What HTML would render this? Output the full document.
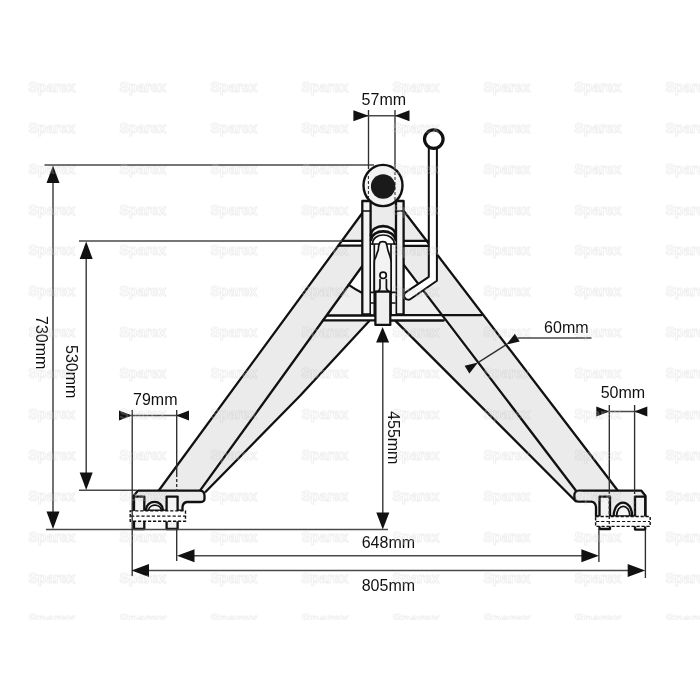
<!DOCTYPE html>
<html lang="en"><head><meta charset="utf-8"><title>A-Frame dimensions</title>
<style>
html,body{margin:0;padding:0;background:#fff;}
body{width:700px;height:700px;overflow:hidden;}
svg{display:block;}
.wm text{font-family:"Liberation Sans",sans-serif;font-weight:bold;font-size:14px;fill:rgba(255,255,255,0.22);stroke:rgba(0,0,0,0.075);stroke-width:1.1px;paint-order:stroke;}
.lbl{opacity:0.999;font-family:"Liberation Sans",sans-serif;font-size:16px;fill:#111;}
.o{stroke:#111;stroke-width:2.3;stroke-linejoin:round;stroke-linecap:round;}
.t{stroke:#111;stroke-width:1.7;stroke-linejoin:round;stroke-linecap:round;}
.d{stroke:#2e2e2e;stroke-width:1.35;fill:none;}
.dh{stroke:#4a4a4a;stroke-width:1.5;fill:none;}
.ah{fill:#111;stroke:none;}
</style></head><body>
<svg width="700" height="700" viewBox="0 0 700 700">
<rect width="700" height="700" fill="#fff"/>
<defs><clipPath id="wmclip"><rect x="0" y="78" width="700" height="542"/></clipPath></defs>

<g id="frame">
<polygon points="362.3,213 158.6,490.7 200,490.7 362.3,266" fill="#ebebeb"/>
<polygon points="200,490.7 205.7,492.5 300.3,395.5 369,321.3 323,320.5" fill="#ebebeb"/>
<polygon points="348.7,284.9 362.3,293 362.3,315.5 326.5,315.5" fill="#efefef"/>
<polygon points="342,240.9 362.3,240.9 362.3,245.6 338.6,245.6" fill="#fff"/>
<polygon points="403.6,210.8 617.9,490.7 576.4,491 403.6,264.6" fill="#ebebeb"/>
<polygon points="576,490.7 575.7,501.2 396,321.4 444,320.6" fill="#ebebeb"/>
<polygon points="403.6,246 428.6,246 428.6,276 403.6,266" fill="#ebebeb"/>
<polygon points="403.6,266 442.9,315 403.6,315" fill="#efefef"/>
<polygon points="403.6,265 418.5,283 405,292 403.6,294" fill="#fff"/>
<polygon points="403.6,240.9 428,240.9 428,245.9 403.6,245.9" fill="#fff"/>
<rect x="370.6" y="200" width="25.4" height="115" fill="#ebebeb"/>
<path class="o" fill="none" d="M362.3,213 L158.6,490.7"/>
<path class="o" fill="none" d="M362.3,266 L200,490.7"/>
<path class="o" fill="none" d="M369,321.3 L300.3,395.5 L205.7,491.8"/>
<path class="o" fill="none" d="M342,240.9 H362.3 M338.6,245.6 H362.3"/>
<path class="t" fill="none" style="stroke-width:2.1" d="M348.7,284.9 Q355.5,289.6 362.3,293"/>
<path class="o" fill="none" d="M327.1,315.5 H375.4 M322.9,320.4 H375.4"/>
<path class="o" fill="none" d="M403.6,210.8 L617.9,490.7"/>
<path class="o" fill="none" d="M403.6,264.6 L576.4,491.2"/>
<path class="o" fill="none" d="M396,321.4 L575.7,501.2"/>
<path class="o" fill="none" d="M403.6,240.9 H428.6 M403.6,245.9 H428.6"/>
<path class="o" fill="none" d="M390.3,315.2 H481.4 M390.3,320.5 H443.7"/>
<rect class="o" x="362.3" y="201" width="8.3" height="113.5" fill="#f3f3f3"/>
<rect class="o" x="396" y="201" width="7.6" height="113.5" fill="#f3f3f3"/>
<path class="t" fill="none" d="M362.3,211 H370.6 M396,211 H403.6"/>
<path class="t" fill="none" d="M374.3,246 V314 M391,246 V314"/>
<rect x="371" y="238" width="3.3" height="76" fill="#f6f6f6"/>
<rect x="391" y="238" width="4.5" height="76" fill="#f6f6f6"/>
<rect x="374.3" y="243" width="16.7" height="49" fill="#fff"/>
<path class="t" fill="none" d="M374.3,243 V314 M391,243 V314"/>
<path class="t" fill="none" d="M370.9,292.3 H374.3 M370.9,303 H374.3 M391,292.3 H395 M391,303 H395"/>
<path class="o" style="stroke-width:2.6" d="M370.9,235.5 C371,223 395,223 395.8,235.5" fill="#f6f6f6"/>
<path class="o" style="stroke-width:2.6" d="M371,240 C372,228.5 394.5,228.5 395.6,240" fill="#f6f6f6"/>
<path class="t" d="M372.5,244 C372.5,232 393.8,232 394.3,244" fill="#fff"/>
<path class="t" fill="none" d="M371,244 H379 M387,244 H395.5"/>
<path class="t" fill="#f3f3f3" d="M382.9,241.7 C380.8,241.7 379.7,242.4 379.4,243.4 L378.6,246.3 L378.3,249.7 L377.1,253.1 L376,256.6 L374.5,260 L374.3,263.4 V291.7 H391.1 V263.4 L390.9,260 L390.1,256.6 L388.9,253.1 L387.8,249.7 L387.1,246.3 L386.3,243.4 C386,242.4 385,241.7 382.9,241.7 Z"/>
<rect class="o" x="375.4" y="291.7" width="14.9" height="33.2" fill="#efefef"/>
<path class="t" fill="#efefef" d="M376.6,291.7 C379,291 380,289.5 380,288 V279.5 M386.4,279.5 V288 C386.4,289.5 387.5,291 390,291.7"/>
<circle class="t" cx="383.1" cy="275.3" r="3.2" fill="#fff"/>
<ellipse class="o" cx="383" cy="185.5" rx="19.5" ry="20.6" fill="#f3f3f3" style="stroke-width:2.4"/>
<circle cx="383.1" cy="186.5" r="12.2" fill="#1a1a1a"/>
<path d="M368.4,176 V200 M395,172 V200" stroke="#222" stroke-width="1" stroke-dasharray="3 2" fill="none"/>
<path class="o" fill="#fff" style="stroke-width:2" d="M428.8,148 V276.8 L406,292.2 A4,4 0 0 0 410.6,299 L436.9,280.8 V148 Z"/>
<circle cx="433.8" cy="139.1" r="9.3" fill="#fff" stroke="#111" stroke-width="3.2"/>
<path class="o" fill="#ebebeb" d="M133.6,495.7 L137.9,490.7 H200 Q204.5,491 204.5,495.5 V499 Q204.5,502 200,502 H187 Q183,502.5 182.5,507 V510.7 H133.6 Z"/><path class="o" fill="#f3f3f3" d="M134,496.6 V529 H144.3 V496.6 Z"/><path class="o" fill="#f3f3f3" d="M166.6,496.6 V529 H177.6 V496.6 Z"/><path class="o" fill="#f4f4f4" d="M145.8,510.7 C146,499 163,499 163,510.7 Z"/><path class="t" fill="none" d="M148.5,510.7 C149,503.5 160.5,503 161.5,510.7"/><rect x="130.2" y="510.9" width="55.3" height="10.4" fill="#fff" stroke="#111" stroke-width="1.4" stroke-dasharray="3.2 1.8"/><path d="M131,516.1 H185" stroke="#111" stroke-width="1.2" stroke-dasharray="3.2 2"/>
<path class="o" fill="#ebebeb" d="M645.4,495.7 L641.4,490.7 H579 Q574.3,491 574.3,496 Q574.3,501.7 579,501.7 H591 Q595.5,502 596,507 V516.4 H645.4 Z"/><path class="o" fill="#f3f3f3" d="M599.5,496.6 V529 H610 V496.6 Z"/><path class="o" fill="#f3f3f3" d="M635,496.6 V529.6 H645.2 V496.6 Z"/><path class="o" fill="#f4f4f4" d="M613.6,516.4 C614,498 632,498 632.2,516.4 Z"/><path class="t" fill="none" d="M616.5,516.4 C617,503 629.5,503 630,516.4"/><rect x="595.6" y="516.5" width="54.6" height="9.9" fill="#fff" stroke="#111" stroke-width="1.4" stroke-dasharray="3.2 1.8"/><path d="M596,521.5 H650" stroke="#111" stroke-width="1.2" stroke-dasharray="3.2 2"/>
</g>
<g id="dims">
<path class="dh" d="M44.5,165 H374 M79,241 H342 M79,490.3 H137 M46,529.6 H388"/>
<path class="d" d="M53,180 V514 M86.2,256 V475"/>
<polygon class="ah" points="53.0,165.5 59.5,183.0 46.5,183.0"/>
<polygon class="ah" points="53.0,529.0 46.5,511.5 59.5,511.5"/>
<polygon class="ah" points="86.2,241.5 92.7,259.0 79.7,259.0"/>
<polygon class="ah" points="86.2,490.0 79.7,472.5 92.7,472.5"/>
<path class="d" d="M382.8,341 V514"/>
<polygon class="ah" points="382.6,327.0 389.1,342.5 376.1,342.5"/>
<polygon class="ah" points="382.8,529.5 376.3,512.5 389.3,512.5"/>
<path class="d" d="M132.2,410 V576 M176.7,410 V474 M176.7,529 V561"/>
<path class="d" d="M176.7,474 V491" stroke-dasharray="3 2"/>
<path class="dh" d="M120,415.5 H189"/>
<polygon class="ah" points="132.0,415.5 119.0,420.5 119.0,410.5"/>
<polygon class="ah" points="176.0,415.5 189.0,410.5 189.0,420.5"/>
<path class="d" d="M368.5,110 V169 M395,110 V170"/>
<path class="dh" d="M355,115.7 H407"/>
<polygon class="ah" points="368.7,115.7 353.4,121.2 353.4,110.2"/>
<polygon class="ah" points="394.9,115.7 409.5,110.2 409.5,121.2"/>
<path class="d" d="M609.3,405 V491 M634.6,405 V491"/>
<path class="d" d="M609.3,491 V527 M634.6,491 V516" stroke-dasharray="3 2"/>
<path class="dh" d="M597,411.6 H647"/>
<polygon class="ah" points="609.3,411.6 596.3,416.6 596.3,406.6"/>
<polygon class="ah" points="634.3,411.6 647.3,406.6 647.3,416.6"/>
<path class="dh" d="M193,555.8 H583"/>
<polygon class="ah" points="177.0,555.8 194.5,549.3 194.5,562.3"/>
<polygon class="ah" points="598.9,555.8 581.4,562.3 581.4,549.3"/>
<path class="d" d="M598.9,529 V562 M645.4,530 V578"/>
<path class="dh" d="M147,570.6 H629"/>
<polygon class="ah" points="131.5,570.6 149.0,564.1 149.0,577.1"/>
<polygon class="ah" points="645.2,570.6 627.7,577.1 627.7,564.1"/>
<path class="dh" d="M517.5,338 H591.5"/>
<path class="d" d="M506.3,344.6 L478,362.6"/>
<polygon class="ah" points="506.3,344.6 514.9,333.8 519.7,341.4"/>
<polygon class="ah" points="478.0,362.6 469.4,373.4 464.6,365.8"/>
</g>
<g class="lbl">
<text x="361.6" y="104.7">57mm</text>
<text x="133" y="404.6">79mm</text>
<text x="544.1" y="333.1">60mm</text>
<text x="600.7" y="398.3">50mm</text>
<text x="361.7" y="548.3">648mm</text>
<text x="361.7" y="590.5">805mm</text>
<text transform="translate(35.5,316) rotate(90)">730mm</text>
<text transform="translate(66.2,345) rotate(90)">530mm</text>
<text transform="translate(388.3,411.1) rotate(90)">455mm</text>
</g>
<g class="wm" clip-path="url(#wmclip)">
<text x="28.5" y="91.8">Sparex</text>
<text x="119.5" y="91.8">Sparex</text>
<text x="210.5" y="91.8">Sparex</text>
<text x="301.5" y="91.8">Sparex</text>
<text x="392.5" y="91.8">Sparex</text>
<text x="483.5" y="91.8">Sparex</text>
<text x="574.5" y="91.8">Sparex</text>
<text x="665.5" y="91.8">Sparex</text>
<text x="28.5" y="132.7">Sparex</text>
<text x="119.5" y="132.7">Sparex</text>
<text x="210.5" y="132.7">Sparex</text>
<text x="301.5" y="132.7">Sparex</text>
<text x="392.5" y="132.7">Sparex</text>
<text x="483.5" y="132.7">Sparex</text>
<text x="574.5" y="132.7">Sparex</text>
<text x="665.5" y="132.7">Sparex</text>
<text x="28.5" y="173.6">Sparex</text>
<text x="119.5" y="173.6">Sparex</text>
<text x="210.5" y="173.6">Sparex</text>
<text x="301.5" y="173.6">Sparex</text>
<text x="392.5" y="173.6">Sparex</text>
<text x="483.5" y="173.6">Sparex</text>
<text x="574.5" y="173.6">Sparex</text>
<text x="665.5" y="173.6">Sparex</text>
<text x="28.5" y="214.5">Sparex</text>
<text x="119.5" y="214.5">Sparex</text>
<text x="210.5" y="214.5">Sparex</text>
<text x="301.5" y="214.5">Sparex</text>
<text x="392.5" y="214.5">Sparex</text>
<text x="483.5" y="214.5">Sparex</text>
<text x="574.5" y="214.5">Sparex</text>
<text x="665.5" y="214.5">Sparex</text>
<text x="28.5" y="255.4">Sparex</text>
<text x="119.5" y="255.4">Sparex</text>
<text x="210.5" y="255.4">Sparex</text>
<text x="301.5" y="255.4">Sparex</text>
<text x="392.5" y="255.4">Sparex</text>
<text x="483.5" y="255.4">Sparex</text>
<text x="574.5" y="255.4">Sparex</text>
<text x="665.5" y="255.4">Sparex</text>
<text x="28.5" y="296.3">Sparex</text>
<text x="119.5" y="296.3">Sparex</text>
<text x="210.5" y="296.3">Sparex</text>
<text x="301.5" y="296.3">Sparex</text>
<text x="392.5" y="296.3">Sparex</text>
<text x="483.5" y="296.3">Sparex</text>
<text x="574.5" y="296.3">Sparex</text>
<text x="665.5" y="296.3">Sparex</text>
<text x="28.5" y="337.2">Sparex</text>
<text x="119.5" y="337.2">Sparex</text>
<text x="210.5" y="337.2">Sparex</text>
<text x="301.5" y="337.2">Sparex</text>
<text x="392.5" y="337.2">Sparex</text>
<text x="483.5" y="337.2">Sparex</text>
<text x="574.5" y="337.2">Sparex</text>
<text x="665.5" y="337.2">Sparex</text>
<text x="28.5" y="378.1">Sparex</text>
<text x="119.5" y="378.1">Sparex</text>
<text x="210.5" y="378.1">Sparex</text>
<text x="301.5" y="378.1">Sparex</text>
<text x="392.5" y="378.1">Sparex</text>
<text x="483.5" y="378.1">Sparex</text>
<text x="574.5" y="378.1">Sparex</text>
<text x="665.5" y="378.1">Sparex</text>
<text x="28.5" y="419.0">Sparex</text>
<text x="119.5" y="419.0">Sparex</text>
<text x="210.5" y="419.0">Sparex</text>
<text x="301.5" y="419.0">Sparex</text>
<text x="392.5" y="419.0">Sparex</text>
<text x="483.5" y="419.0">Sparex</text>
<text x="574.5" y="419.0">Sparex</text>
<text x="665.5" y="419.0">Sparex</text>
<text x="28.5" y="459.9">Sparex</text>
<text x="119.5" y="459.9">Sparex</text>
<text x="210.5" y="459.9">Sparex</text>
<text x="301.5" y="459.9">Sparex</text>
<text x="392.5" y="459.9">Sparex</text>
<text x="483.5" y="459.9">Sparex</text>
<text x="574.5" y="459.9">Sparex</text>
<text x="665.5" y="459.9">Sparex</text>
<text x="28.5" y="500.8">Sparex</text>
<text x="119.5" y="500.8">Sparex</text>
<text x="210.5" y="500.8">Sparex</text>
<text x="301.5" y="500.8">Sparex</text>
<text x="392.5" y="500.8">Sparex</text>
<text x="483.5" y="500.8">Sparex</text>
<text x="574.5" y="500.8">Sparex</text>
<text x="665.5" y="500.8">Sparex</text>
<text x="28.5" y="541.7">Sparex</text>
<text x="119.5" y="541.7">Sparex</text>
<text x="210.5" y="541.7">Sparex</text>
<text x="301.5" y="541.7">Sparex</text>
<text x="392.5" y="541.7">Sparex</text>
<text x="483.5" y="541.7">Sparex</text>
<text x="574.5" y="541.7">Sparex</text>
<text x="665.5" y="541.7">Sparex</text>
<text x="28.5" y="582.6">Sparex</text>
<text x="119.5" y="582.6">Sparex</text>
<text x="210.5" y="582.6">Sparex</text>
<text x="301.5" y="582.6">Sparex</text>
<text x="392.5" y="582.6">Sparex</text>
<text x="483.5" y="582.6">Sparex</text>
<text x="574.5" y="582.6">Sparex</text>
<text x="665.5" y="582.6">Sparex</text>
<text x="28.5" y="623.5">Sparex</text>
<text x="119.5" y="623.5">Sparex</text>
<text x="210.5" y="623.5">Sparex</text>
<text x="301.5" y="623.5">Sparex</text>
<text x="392.5" y="623.5">Sparex</text>
<text x="483.5" y="623.5">Sparex</text>
<text x="574.5" y="623.5">Sparex</text>
<text x="665.5" y="623.5">Sparex</text>
</g>
</svg></body></html>
